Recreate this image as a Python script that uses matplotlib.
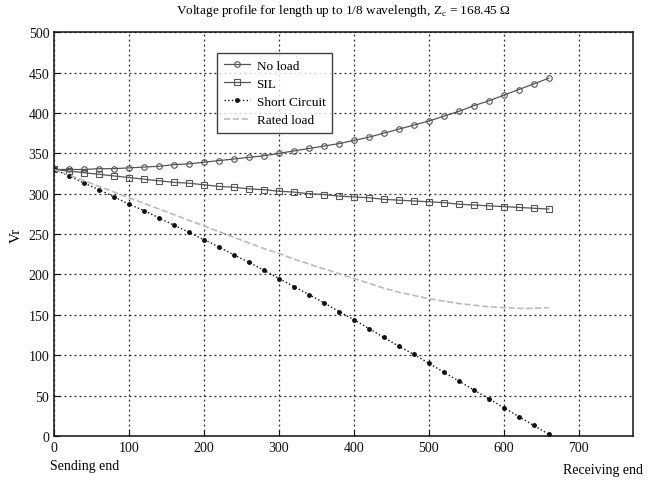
import matplotlib
matplotlib.use("Agg")
import matplotlib.pyplot as plt

plt.rcParams['font.family'] = ['Liberation Serif', 'DejaVu Serif']

x_km = [0, 20, 40, 60, 80, 100, 120, 140, 160, 180, 200, 220, 240, 260, 280, 300,
        320, 340, 360, 380, 400, 420, 440, 460, 480, 500, 520, 540, 560, 580, 600,
        620, 640, 660]

no_load = [330, 330, 330, 331, 331, 332, 333, 334, 336, 337, 339, 341, 343, 345,
           347, 350, 353, 356, 359, 362, 366, 370, 375, 380, 385, 390, 396, 402,
           409, 415, 422, 429, 436, 443]

sil = [330, 328, 326, 324, 322, 320, 318, 316, 314, 313, 311, 309, 308, 306, 305,
       303, 302, 300, 299, 297, 296, 295, 293, 292, 291, 290, 289, 287, 286, 285,
       284, 283, 282, 281]

short_circuit = [330, 322, 313, 305, 296, 287, 279, 270, 261, 252, 243, 234, 224,
                 215, 205, 195, 185, 175, 165, 154, 144, 133, 122, 111, 101, 90, 79,
                 68, 57, 46, 35, 24, 13, 2]

rated_load = [330, 323, 316, 309, 302, 295, 288, 281, 274, 267, 260, 253, 246, 239,
              232, 226, 219, 213, 207, 201, 195, 189, 183, 178, 174, 170, 167, 164,
              162, 160, 159, 158, 158, 159]

x_ticks = [0, 100, 200, 300, 400, 500, 600, 700]
y_ticks = [0, 50, 100, 150, 200, 250, 300, 350, 400, 450, 500]

fig = plt.figure(figsize=(6.53, 4.81), dpi=100)
ax = fig.add_axes([0.083, 0.0915, 0.886, 0.8395])

ax.plot(x_km, no_load, '-', color='#555555', marker='o', mfc='none', ms=4,
        mew=0.8, lw=0.9, label='No load')
ax.plot(x_km, sil, '-', color='#555555', marker='s', mfc='none', ms=4,
        mew=0.8, lw=0.9, label='SIL')
ax.plot(x_km, short_circuit, ':', color='#111111', marker='.', ms=5,
        lw=1.0, label='Short Circuit')
ax.plot(x_km, rated_load, '--', color='#bbbbbb', lw=1.2, label='Rated load')

ax.set_xlim(0, 772)
ax.set_ylim(0, 500)
ax.set_xticks(x_ticks)
ax.set_yticks(y_ticks)
ax.tick_params(direction='in', length=4, labelsize=10, colors='#111111')
ax.grid(True, color='#222222', linestyle=(0, (1.5, 2.5)), linewidth=0.9)
for s in ax.spines.values():
    s.set_color('#111111')
    s.set_linewidth(1.1)

ax.set_ylabel('Vr', fontsize=11, labelpad=4)
ax.set_title('Voltage profile for length up to 1/8 wavelength, Z$_\\mathregular{c}$ = 168.45 \u03a9',
             fontsize=9.5, pad=14)

fig.text(0.076, 0.03, 'Sending end', fontsize=10, ha='left', va='center')
fig.text(0.985, 0.022, 'Receiving end', fontsize=10, ha='right', va='center')

leg = ax.legend(loc='upper left', bbox_to_anchor=(0.27, 0.965), fontsize=9.5,
                handlelength=2.0, frameon=True, fancybox=False, borderpad=0.5,
                labelspacing=0.45, handletextpad=0.5)
leg.get_frame().set_edgecolor('#111111')
leg.get_frame().set_linewidth(1.0)

fig.savefig('out.png', dpi=100)
